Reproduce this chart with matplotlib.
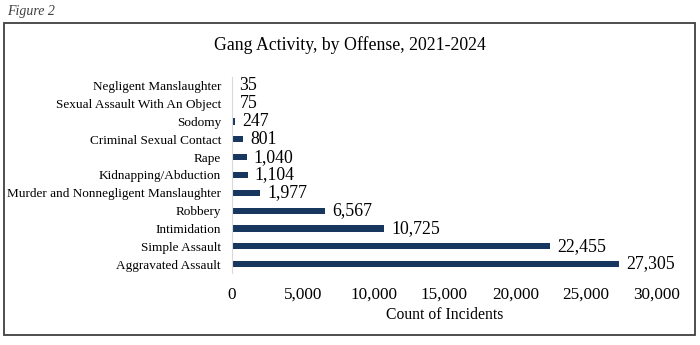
import matplotlib.pyplot as plt
from matplotlib.patches import Rectangle

plt.rcParams['font.family'] = ['Liberation Serif', 'DejaVu Serif']

offenses = ["Aggravated Assault", "Simple Assault", "Intimidation", "Robbery",
            "Murder and Nonnegligent Manslaughter", "Kidnapping/Abduction", "Rape",
            "Criminal Sexual Contact", "Sodomy", "Sexual Assault With An Object",
            "Negligent Manslaughter"]
counts = [27305, 22455, 10725, 6567, 1977, 1104, 1040, 801, 247, 75, 35]
xticks = [0, 5000, 10000, 15000, 20000, 25000, 30000]

bar_color = "#17375e"

fig = plt.figure(figsize=(7, 3.45), dpi=100)
ax = fig.add_axes([232/700, 1 - 273/345, (657 - 232)/700, 196/345])

y = list(range(len(offenses)))
ax.barh(y, counts, height=0.35, color=bar_color)
for yi, c in zip(y, counts):
    ax.text(c + 500, yi, f"{c:,}", va="center", ha="left", fontsize=12.8)

ax.set_xlim(0, 30000)
ax.set_ylim(-0.5, len(offenses) - 0.5)
ax.set_yticks(y)
ax.set_yticklabels(offenses, fontsize=9.5)
ax.set_xticks(xticks)
ax.set_xticklabels([f"{t:,}" for t in xticks], fontsize=12.3)
ax.tick_params(length=0, pad=10)
ax.tick_params(axis="y", pad=8)
for s in ["top", "right", "bottom"]:
    ax.spines[s].set_visible(False)
ax.spines["left"].set_color("#d9d9d9")
ax.set_xlabel("Count of Incidents", fontsize=11.3, labelpad=3)

fig.text(350/700, 1 - 45/345, "Gang Activity, by Offense, 2021-2024", ha="center", va="center", fontsize=12.8)
fig.text(7/700, 1 - 11/345, "Figure 2", ha="left", va="center", fontsize=10, style="italic", color="#404040")
fig.patches.append(Rectangle((4/700, 10/345), 691/700, 312/345, transform=fig.transFigure,
                             fill=False, edgecolor="#404040", linewidth=1.3))

fig.savefig("out.png", dpi=100)
